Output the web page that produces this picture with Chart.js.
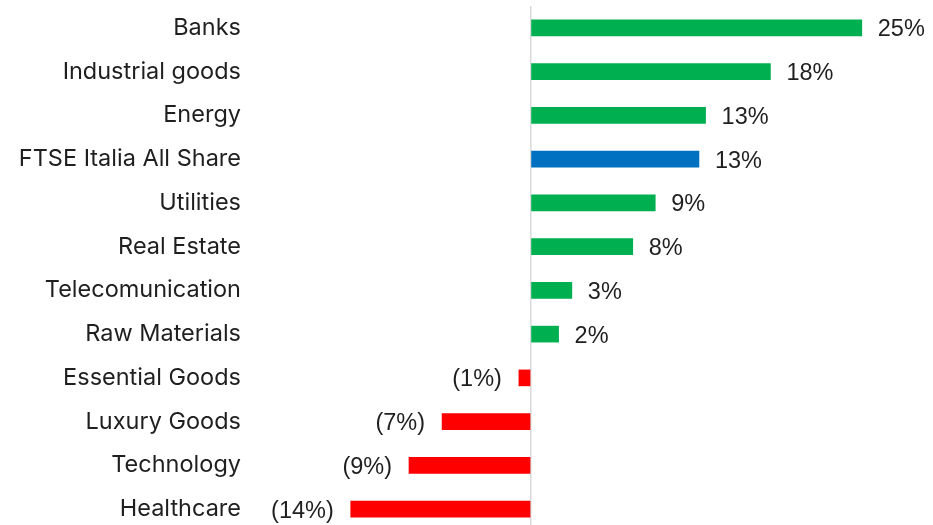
<!DOCTYPE html>
<html>
<head>
<meta charset="utf-8">
<script src="https://cdn.jsdelivr.net/npm/chart.js@4"></script>
<style>
    html, body { margin: 0; padding: 0; background: #fff; overflow: hidden; }
    #wrap { width: 933px; height: 532px; }
</style>
</head>
<body>
<div id="wrap"><canvas id="sectorChart" width="933" height="532"></canvas></div>
<script>
// Sector returns (%)
const sectors = ['Banks', 'Industrial goods', 'Energy', 'FTSE Italia All Share', 'Utilities', 'Real Estate',
    'Telecomunication', 'Raw Materials', 'Essential Goods', 'Luxury Goods', 'Technology', 'Healthcare'];
const returns = [25.0, 18.1, 13.2, 12.7, 9.4, 7.7, 3.1, 2.1, -0.9, -6.7, -9.2, -13.6];
const indexName = 'FTSE Italia All Share';

const GREEN = '#00B050';
const BLUE = '#0070C0';
const RED = '#FF0000';

function barColor(label, value) {
    if (label === indexName) return BLUE;
    return value >= 0 ? GREEN : RED;
}

function formatPct(v) {
    const r = Math.round(Math.abs(v));
    return v < 0 ? '(' + r + '%)' : r + '%';
}

// Draws the value next to the end of each bar
const valueLabels = {
    id: 'valueLabels',
    afterDatasetsDraw(chart) {
        const ctx = chart.ctx;
        const meta = chart.getDatasetMeta(0);
        ctx.save();
        ctx.font = '23.5px "Liberation Sans", Arial, sans-serif';
        ctx.fillStyle = '#1f1f1f';
        ctx.textBaseline = 'middle';
        meta.data.forEach((bar, i) => {
            const v = returns[i];
            if (v >= 0) {
                ctx.textAlign = 'left';
                ctx.fillText(formatPct(v), bar.x + 16, bar.y + 2);
            } else {
                ctx.textAlign = 'right';
                ctx.fillText(formatPct(v), bar.x - 17, bar.y + 2);
            }
        });
        ctx.restore();
    }
};

const ctx = document.getElementById('sectorChart').getContext('2d');
new Chart(ctx, {
    type: 'bar',
    data: {
        labels: sectors,
        datasets: [{
            data: returns,
            backgroundColor: sectors.map((s, i) => barColor(s, returns[i])),
            barThickness: 16,
            borderWidth: 0
        }]
    },
    options: {
        indexAxis: 'y',
        responsive: false,
        animation: false,
        layout: { padding: { top: 6, right: 5, bottom: 1, left: 0 } },
        plugins: {
            legend: { display: false },
            tooltip: { enabled: false }
        },
        scales: {
            x: {
                min: -20,
                max: 30,
                border: { display: false },
                ticks: { display: false },
                grid: {
                    drawTicks: false,
                    lineWidth: 1.5,
                    color: c => (c.tick && c.tick.value === 0) ? '#d9d9d9' : 'rgba(0,0,0,0)'
                }
            },
            y: {
                border: { display: false },
                grid: { display: false, drawTicks: false },
                ticks: {
                    padding: 25,
                    color: '#1f1f1f',
                    font: { family: 'Inter, "Noto Sans", sans-serif', size: 23.5 }
                },
                afterFit(scale) {
                    scale.width = 266;
                    scale.paddingTop = 0;
                    scale.paddingBottom = 0;
                }
            }
        }
    },
    plugins: [valueLabels]
});
</script>
</body>
</html>
